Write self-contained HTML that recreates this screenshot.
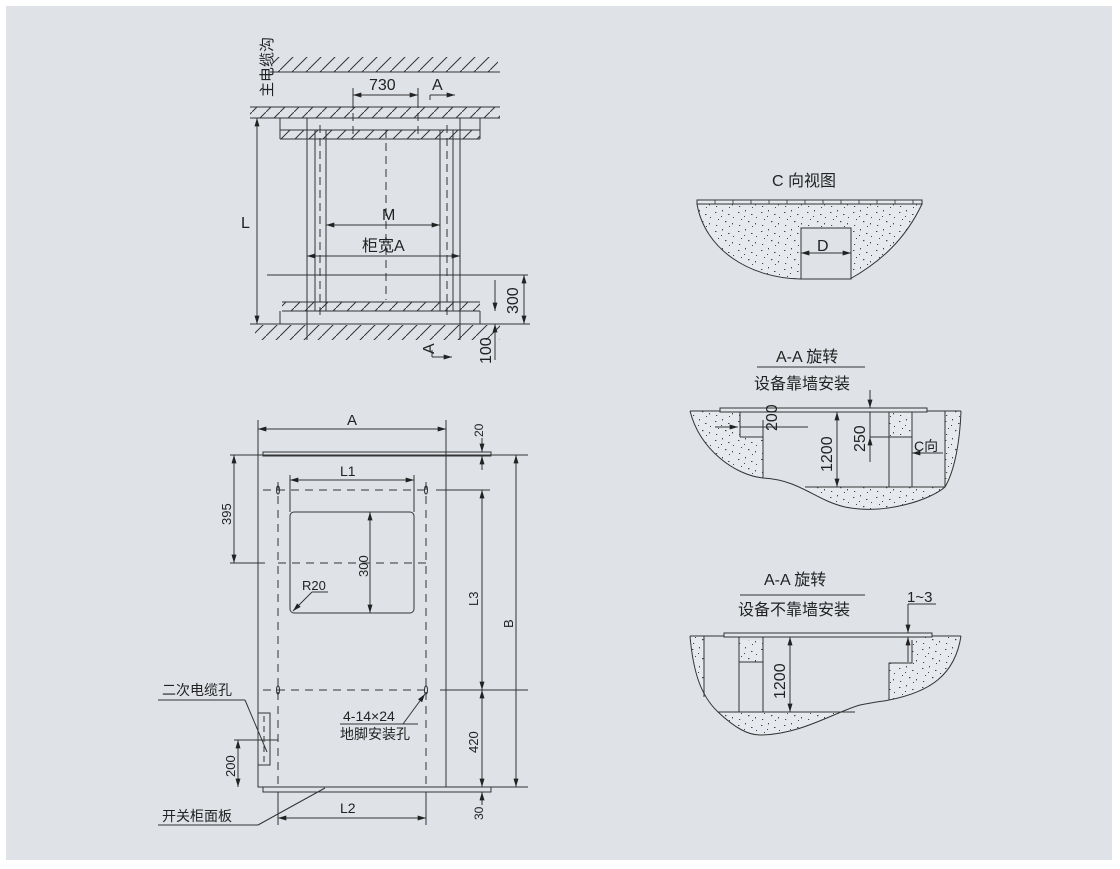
<!DOCTYPE html>
<html><head><meta charset="utf-8"><style>
body{margin:0;background:#fff;width:1120px;height:869px;overflow:hidden}
svg{display:block}
text{font-family:"Liberation Sans","Noto Sans CJK SC",sans-serif;fill:#222}
</style></head><body>
<svg width="1120" height="869" viewBox="0 0 1120 869" xmlns="http://www.w3.org/2000/svg">
<defs>
<pattern id="st" width="23" height="19" patternUnits="userSpaceOnUse">
<rect width="23" height="19" fill="#e6e9ed"/>
<g fill="#444"><rect x="2" y="3" width="1.4" height="1"/><rect x="9" y="1" width="1" height="1.4"/><rect x="15" y="5" width="1.5" height="1"/><rect x="5" y="10" width="1" height="1"/><rect x="12" y="12" width="1.4" height="1.2"/><rect x="19" y="14" width="1" height="1.4"/><rect x="3" y="16" width="1.2" height="1"/><rect x="20" y="8" width="1" height="1"/><rect x="8" y="7" width="1" height="1"/><rect x="16" y="17" width="1" height="1"/></g>
</pattern>
<marker id="ar" viewBox="0 0 10 6" refX="10" refY="3" markerWidth="9" markerHeight="5" orient="auto-start-reverse" markerUnits="userSpaceOnUse"><path d="M0,0L10,3L0,6z" fill="#222"/></marker>
<pattern id="hh" width="14" height="14" patternUnits="userSpaceOnUse"><path d="M0,14L14,0" stroke="#333" stroke-width="1"/></pattern>
<clipPath id="c1"><path d="M690,411 C700,450 735,475 763,478 C800,480 815,500 845,507 C885,515 930,500 945,487 C955,470 960,440 961,411 Z"/></clipPath>
<clipPath id="c2"><path d="M690,636 C693,670 700,695 718,712 C735,728 748,735 760,735 C800,735 835,712 860,705 C875,702 885,701 889,700 C930,692 955,675 961,636 Z"/></clipPath>
</defs>
<rect x="6" y="6" width="1106" height="854" fill="#dfe3e8"/>
<g stroke="#333" stroke-width="1" fill="none">
<!-- top-left plan -->
<line x1="270" y1="72" x2="500" y2="72"/>
<rect x="272" y="57" width="226" height="15" fill="url(#hh)" stroke="none"/>
<rect x="250" y="107" width="250" height="11" fill="url(#hh)" stroke="none"/>
<line x1="250" y1="107" x2="500" y2="107"/><line x1="250" y1="118" x2="500" y2="118"/>
<rect x="280" y="130" width="200" height="9" fill="url(#hh)" stroke="none"/>
<line x1="280" y1="130" x2="480" y2="130"/><line x1="280" y1="139" x2="480" y2="139"/>
<line x1="280" y1="118" x2="280" y2="139"/><line x1="480" y1="118" x2="480" y2="139"/>
<line x1="307" y1="118" x2="307" y2="340"/><line x1="460" y1="118" x2="460" y2="340"/>
<line x1="315" y1="130" x2="315" y2="311"/><line x1="326" y1="130" x2="326" y2="311"/>
<line x1="440" y1="130" x2="440" y2="311"/><line x1="453" y1="130" x2="453" y2="311"/>
<g stroke-dasharray="8,5"><line x1="320" y1="125" x2="320" y2="320"/><line x1="447" y1="125" x2="447" y2="320"/><line x1="386" y1="130" x2="386" y2="300"/><line x1="353" y1="100" x2="353" y2="140"/><line x1="418" y1="100" x2="418" y2="140"/></g>
<line x1="353" y1="88" x2="353" y2="100"/><line x1="418" y1="88" x2="418" y2="100"/>
<line x1="353" y1="95" x2="418" y2="95" marker-start="url(#ar)" marker-end="url(#ar)"/>
<line x1="430" y1="95" x2="455" y2="95" marker-end="url(#ar)"/><line x1="430" y1="95" x2="430" y2="100"/>
<line x1="326" y1="225" x2="440" y2="225" marker-start="url(#ar)" marker-end="url(#ar)"/>
<line x1="307" y1="256" x2="460" y2="256" marker-start="url(#ar)" marker-end="url(#ar)"/>
<line x1="267" y1="275" x2="528" y2="275"/>
<rect x="282" y="302" width="198" height="9" fill="url(#hh)" stroke="none"/>
<line x1="282" y1="302" x2="480" y2="302"/><line x1="282" y1="311" x2="480" y2="311"/>
<line x1="280" y1="311" x2="280" y2="324"/><line x1="480" y1="311" x2="480" y2="324"/>
<line x1="250" y1="324" x2="530" y2="324"/>
<rect x="255" y="325" width="245" height="15" fill="url(#hh)" stroke="none"/>
<line x1="257" y1="118" x2="257" y2="324" marker-start="url(#ar)" marker-end="url(#ar)"/>
<line x1="524" y1="275" x2="524" y2="324" marker-start="url(#ar)" marker-end="url(#ar)"/>
<line x1="495" y1="280" x2="495" y2="311" marker-end="url(#ar)"/>
<line x1="495" y1="360" x2="495" y2="324" marker-end="url(#ar)"/>
<line x1="432" y1="350" x2="432" y2="357"/><line x1="432" y1="357" x2="452" y2="357" marker-end="url(#ar)"/>
<!-- bottom-left front -->
<line x1="258" y1="420" x2="258" y2="455"/><line x1="446" y1="420" x2="446" y2="455"/>
<line x1="258" y1="429" x2="446" y2="429" marker-start="url(#ar)" marker-end="url(#ar)"/>
<rect x="263" y="452" width="228" height="4"/>
<rect x="258" y="455" width="188" height="332"/>
<rect x="263" y="787" width="228" height="5"/>
<rect x="290" y="512" width="124" height="101" rx="4"/>
<g stroke-dasharray="8,6">
<line x1="263" y1="490" x2="430" y2="490"/><line x1="278" y1="563" x2="430" y2="563"/><line x1="263" y1="690" x2="430" y2="690"/>
<line x1="278" y1="482" x2="278" y2="790"/><line x1="426" y1="482" x2="426" y2="790"/>
</g>
<ellipse cx="278" cy="490" rx="1.5" ry="4"/><ellipse cx="426" cy="490" rx="1.5" ry="4"/>
<ellipse cx="278" cy="690" rx="1.5" ry="4"/><ellipse cx="426" cy="690" rx="1.5" ry="4"/>
<line x1="290" y1="475" x2="290" y2="512"/><line x1="414" y1="475" x2="414" y2="512"/>
<line x1="290" y1="480" x2="414" y2="480" marker-start="url(#ar)" marker-end="url(#ar)"/>
<line x1="370" y1="512" x2="370" y2="613" marker-start="url(#ar)" marker-end="url(#ar)"/>
<line x1="312" y1="592" x2="293" y2="611" marker-end="url(#ar)"/><line x1="312" y1="592" x2="328" y2="592"/>
<line x1="230" y1="455" x2="260" y2="455"/><line x1="230" y1="563" x2="265" y2="563"/>
<line x1="234" y1="455" x2="234" y2="563" marker-start="url(#ar)" marker-end="url(#ar)"/>
<line x1="436" y1="490" x2="490" y2="490"/><line x1="440" y1="690" x2="528" y2="690"/>
<line x1="446" y1="455" x2="528" y2="455"/><line x1="446" y1="787" x2="528" y2="787"/>
<line x1="482" y1="490" x2="482" y2="690" marker-start="url(#ar)" marker-end="url(#ar)"/>
<line x1="482" y1="690" x2="482" y2="787" marker-start="url(#ar)" marker-end="url(#ar)"/>
<line x1="516" y1="455" x2="516" y2="787" marker-start="url(#ar)" marker-end="url(#ar)"/>
<line x1="482" y1="438" x2="482" y2="452" marker-end="url(#ar)"/><line x1="482" y1="470" x2="482" y2="456" marker-end="url(#ar)"/>
<line x1="482" y1="805" x2="482" y2="792" marker-end="url(#ar)"/>
<line x1="278" y1="792" x2="278" y2="825"/><line x1="426" y1="792" x2="426" y2="825"/>
<line x1="278" y1="818" x2="426" y2="818" marker-start="url(#ar)" marker-end="url(#ar)"/>
<rect x="258" y="713" width="12" height="52"/>
<line x1="264" y1="716" x2="264" y2="762" stroke-dasharray="6,4"/>
<line x1="234" y1="740" x2="278" y2="740"/>
<line x1="238" y1="740" x2="238" y2="787" marker-start="url(#ar)" marker-end="url(#ar)"/>
<line x1="158" y1="700" x2="245" y2="700"/><line x1="245" y1="700" x2="267" y2="752"/>
<line x1="158" y1="825" x2="258" y2="825"/><line x1="258" y1="825" x2="325" y2="788"/>
<line x1="340" y1="724" x2="418" y2="724"/><line x1="403" y1="724" x2="425" y2="694" marker-end="url(#ar)"/>
<!-- C view -->
<path d="M697,204 C705,250 750,278 800,279 L850,279 C880,262 905,240 922,204 Z" fill="url(#st)"/>
<rect x="697" y="200" width="225" height="4" fill="#e6e9ed"/>
<g stroke-width="0.8"><line x1="715" y1="200" x2="715" y2="204"/><line x1="733" y1="200" x2="733" y2="204"/><line x1="751" y1="200" x2="751" y2="204"/><line x1="769" y1="200" x2="769" y2="204"/><line x1="787" y1="200" x2="787" y2="204"/><line x1="805" y1="200" x2="805" y2="204"/><line x1="823" y1="200" x2="823" y2="204"/><line x1="841" y1="200" x2="841" y2="204"/><line x1="859" y1="200" x2="859" y2="204"/><line x1="877" y1="200" x2="877" y2="204"/><line x1="895" y1="200" x2="895" y2="204"/><line x1="913" y1="200" x2="913" y2="204"/></g>
<rect x="801" y="228" width="50" height="51" fill="#dfe3e8"/>
<line x1="801" y1="253" x2="851" y2="253" marker-start="url(#ar)" marker-end="url(#ar)"/>
<!-- A-A 1 -->
<line x1="757" y1="367" x2="865" y2="367"/>
<g clip-path="url(#c1)" stroke="none" fill="url(#st)">
<path d="M680,405 L740,405 L740,437 L763,437 L763,520 L680,520 Z"/>
<rect x="700" y="487" width="270" height="40"/>
<rect x="945" y="405" width="25" height="100"/>
<rect x="889" y="411" width="23" height="26"/>
</g>
<path d="M690,411 C700,450 735,475 763,478 C800,480 815,500 845,507 C885,515 930,500 945,487 C955,470 960,440 961,411"/>
<line x1="740" y1="411" x2="740" y2="437"/><line x1="740" y1="437" x2="763" y2="437"/><line x1="763" y1="437" x2="763" y2="478"/>
<line x1="889" y1="411" x2="889" y2="487"/><line x1="912" y1="411" x2="912" y2="487"/><line x1="945" y1="411" x2="945" y2="487"/>
<line x1="805" y1="487" x2="945" y2="487"/>
<line x1="870" y1="437" x2="912" y2="437"/>
<line x1="690" y1="411" x2="961" y2="411"/>
<rect x="720" y="408" width="207" height="4" fill="#e3e6ea"/>
<line x1="837" y1="412" x2="837" y2="487" marker-start="url(#ar)" marker-end="url(#ar)"/>
<line x1="870" y1="390" x2="870" y2="408" marker-end="url(#ar)"/>
<line x1="870" y1="462" x2="870" y2="437" marker-end="url(#ar)"/>
<line x1="870" y1="412" x2="870" y2="437"/>
<line x1="715" y1="427" x2="738" y2="427" marker-end="url(#ar)"/><line x1="740" y1="427" x2="808" y2="427"/>
<line x1="763" y1="420" x2="763" y2="437"/>
<line x1="943" y1="453" x2="912" y2="453" marker-end="url(#ar)"/>
<!-- A-A 2 -->
<line x1="740" y1="595" x2="865" y2="595"/>
<g clip-path="url(#c2)" stroke="none" fill="url(#st)">
<rect x="680" y="630" width="24" height="120"/>
<rect x="680" y="712" width="300" height="40"/>
<path d="M889,760 L889,663 L912,663 L912,640 L932,636 L975,630 L975,760 Z"/>
<rect x="739" y="640" width="24" height="22"/>
</g>
<path d="M690,636 C693,670 700,695 718,712 C735,728 748,735 760,735 C800,735 835,712 860,705 C875,702 885,701 889,700 C930,692 955,675 961,636"/>
<line x1="690" y1="636" x2="961" y2="636"/>
<line x1="704" y1="636" x2="704" y2="697"/>
<line x1="739" y1="636" x2="739" y2="712"/><line x1="763" y1="636" x2="763" y2="712"/>
<line x1="739" y1="662" x2="763" y2="662"/>
<line x1="718" y1="712" x2="855" y2="712"/>
<path d="M889,700 L889,663 L912,663 L912,640"/>
<rect x="724" y="633" width="208" height="4" fill="#e3e6ea"/>
<line x1="790" y1="637" x2="790" y2="712" marker-start="url(#ar)" marker-end="url(#ar)"/>
<line x1="908" y1="604" x2="936" y2="604"/>
<line x1="908" y1="604" x2="908" y2="633" marker-end="url(#ar)"/>
<line x1="908" y1="662" x2="908" y2="637" marker-end="url(#ar)"/>
</g>
<g font-size="15">
<text x="272" y="97" transform="rotate(-90 272 97)" font-size="15">主电缆沟</text>
<text x="369" y="90" font-size="16">730</text><text x="432" y="90" font-size="16">A</text>
<text x="382" y="220" font-size="16">M</text><text x="362" y="251" font-size="16">柜宽A</text>
<text x="241" y="228" font-size="16">L</text>
<text x="518" y="314" transform="rotate(-90 518 314)" font-size="16">300</text>
<text x="491" y="364" transform="rotate(-90 491 364)" font-size="16">100</text>
<text x="434" y="354" transform="rotate(-90 434 354)" font-size="16">A</text>
<text x="347" y="425">A</text>
<text x="483" y="437" transform="rotate(-90 483 437)" font-size="12">20</text>
<text x="340" y="476" font-size="14">L1</text>
<text x="231" y="525" transform="rotate(-90 231 525)" font-size="13">395</text>
<text x="368" y="577" transform="rotate(-90 368 577)" font-size="13">300</text>
<text x="302" y="590" font-size="13">R20</text>
<text x="478" y="606" transform="rotate(-90 478 606)" font-size="13">L3</text>
<text x="513" y="628" transform="rotate(-90 513 628)" font-size="13">B</text>
<text x="162" y="695" font-size="14">二次电缆孔</text>
<text x="343" y="721" font-size="14">4-14×24</text>
<text x="340" y="739" font-size="14">地脚安装孔</text>
<text x="478" y="753" transform="rotate(-90 478 753)" font-size="13">420</text>
<text x="235" y="777" transform="rotate(-90 235 777)" font-size="13">200</text>
<text x="340" y="813" font-size="14">L2</text>
<text x="483" y="820" transform="rotate(-90 483 820)" font-size="12">30</text>
<text x="162" y="821" font-size="14">开关柜面板</text>
<text x="772" y="186" font-size="16">C 向视图</text>
<text x="817" y="251" font-size="16">D</text>
<text x="776" y="362" font-size="16">A-A 旋转</text>
<text x="754" y="389" font-size="16">设备靠墙安装</text>
<text x="777" y="431" transform="rotate(-90 777 431)" font-size="16">200</text>
<text x="832" y="472" transform="rotate(-90 832 472)" font-size="16">1200</text>
<text x="865" y="452" transform="rotate(-90 865 452)" font-size="16">250</text>
<text x="914" y="451" font-size="14">C向</text>
<text x="764" y="585" font-size="16">A-A 旋转</text>
<text x="738" y="615" font-size="16">设备不靠墙安装</text>
<text x="907" y="602" font-size="15">1~3</text>
<text x="785" y="699" transform="rotate(-90 785 699)" font-size="16">1200</text>
</g>
</svg>
</body></html>
